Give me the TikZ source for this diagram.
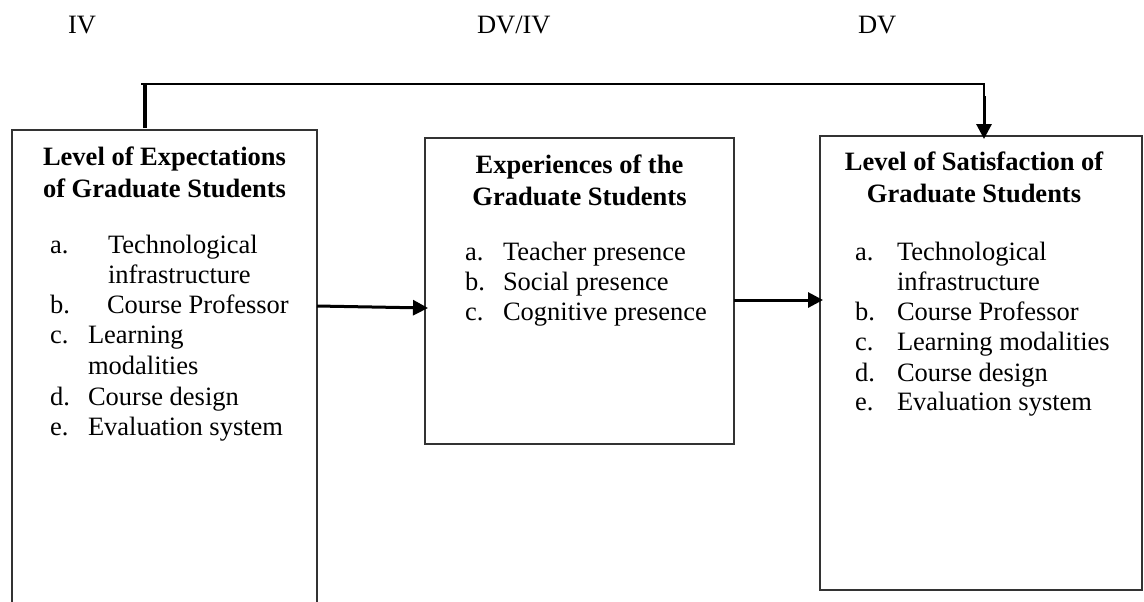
\documentclass[tikz,border=0pt]{standalone}
\usepackage{fontspec}
\setmainfont{Liberation Serif}
\usetikzlibrary{arrows.meta,calc}
\begin{document}
\begin{tikzpicture}[x=0.5pt,y=-0.5pt,
  every node/.style={inner sep=0pt,outer sep=0pt},
  txt/.style={anchor=base west,font=\fontsize{13.25}{15.3}\selectfont},
  head/.style={anchor=base,font=\fontsize{13.25}{16}\selectfont\bfseries},
  box/.style={draw=black!80,line width=0.8pt,rectangle,anchor=north west},
  tip/.style={-{Triangle[length=7.5pt,width=7.5pt]}},
  arr/.style={line width=1.5pt,tip},
  link/.style={line width=1.3pt},
  stub/.style={line width=2pt}]
\clip (0,0) rectangle (1144,601);
% boxes
\node[box,minimum width=152.5pt,minimum height=240pt] (lbox) at (12,130) {};
\node[box,minimum width=154.5pt,minimum height=153pt] (mbox) at (425,138) {};
\node[box,minimum width=161pt,minimum height=227pt] (rbox) at (820,136) {};
% top labels
\node[txt] (iv) at (68,33) {IV};
\node[txt] (dviv) at (477,33) {DV/IV};
\node[txt] (dv) at (858,33) {DV};
% headings
\node[head] (lh1) at (164.5,165) {Level of Expectations};
\node[head] (lh2) at (164.5,197) {of Graduate Students};
\node[head] (mh1) at (579.5,173) {Experiences of the};
\node[head] (mh2) at (579.5,205) {Graduate Students};
\node[head] (rh1) at (974,170) {Level of Satisfaction of};
\node[head] (rh2) at (974,202) {Graduate Students};
% left list
\node[txt] (la1) at (50,253) {a.};
\node[txt] (lt1) at (108,253) {Technological};
\node[txt] (lt1b) at (108,283) {infrastructure};
\node[txt] (la2) at (50,313) {b.};
\node[txt] (lt2) at (107,313) {Course Professor};
\node[txt] (la3) at (50,343) {c.};
\node[txt] (lt3) at (88,343) {Learning};
\node[txt] (lt3b) at (88,374) {modalities};
\node[txt] (la4) at (50,405) {d.};
\node[txt] (lt4) at (88,405) {Course design};
\node[txt] (la5) at (50,435) {e.};
\node[txt] (lt5) at (88,435) {Evaluation system};
% middle list
\node[txt] (ma1) at (465,260) {a.};
\node[txt] (mt1) at (503,260) {Teacher presence};
\node[txt] (ma2) at (465,290) {b.};
\node[txt] (mt2) at (503,290) {Social presence};
\node[txt] (ma3) at (465,320) {c.};
\node[txt] (mt3) at (503,320) {Cognitive presence};
% right list
\node[txt] (ra1) at (855,260) {a.};
\node[txt] (rt1) at (897,260) {Technological};
\node[txt] (rt1b) at (897,290) {infrastructure};
\node[txt] (ra2) at (855,320) {b.};
\node[txt] (rt2) at (897,320) {Course Professor};
\node[txt] (ra3) at (855,350) {c.};
\node[txt] (rt3) at (897,350) {Learning modalities};
\node[txt] (ra4) at (855,381) {d.};
\node[txt] (rt4) at (897,381) {Course design};
\node[txt] (ra5) at (855,410) {e.};
\node[txt] (rt5) at (897,410) {Evaluation system};
% connectors
\draw[arr] ($(lbox.north east)+(0,176)$) -- ($(mbox.north west)+(3,170)$);
\draw[arr] ($(mbox.north east)+(0,162)$) -- ($(rbox.north west)+(3,164)$);
\draw[stub] ($(lbox.north west)+(133,-2)$) -- ++(0,-44) coordinate (tl);
\draw[link] ($(tl)+(-4,0)$) -| ($(rbox.north)+(3,-40)$) coordinate (tr);
\draw[arr] (tr) -- ($(rbox.north west)+(164,3)$);
\end{tikzpicture}
\end{document}
